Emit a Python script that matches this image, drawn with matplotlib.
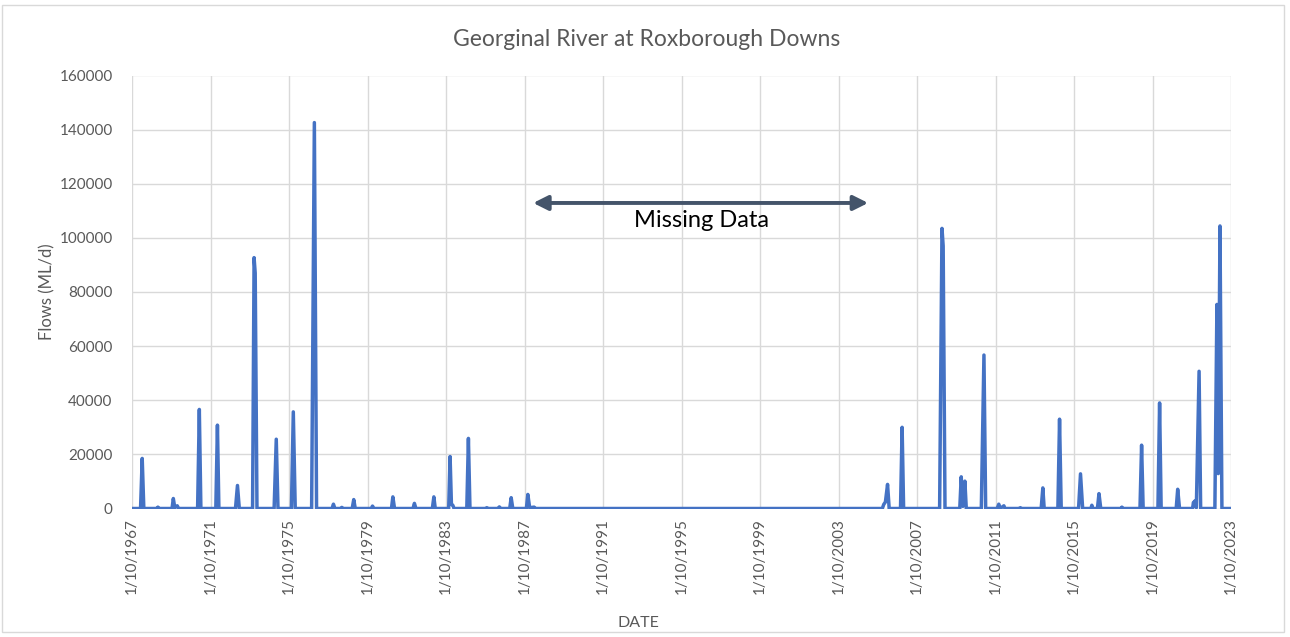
import pandas as pd
import matplotlib.pyplot as plt
from matplotlib.patches import Rectangle

# daily flows (ML/d)
dates = [
    '1967-10-01', '1968-03-08', '1968-04-08', '1968-05-08', '1969-01-05', '1969-01-25', '1969-02-15',
    '1969-10-15', '1969-11-08', '1969-12-05', '1970-01-20', '1970-02-15',
    '1971-02-03', '1971-03-07', '1971-04-05',
    '1972-01-08', '1972-02-07', '1972-03-05',
    '1973-01-08', '1973-02-14', '1973-03-20',
    '1973-11-22', '1973-12-20', '1974-01-10', '1974-02-12',
    '1974-12-28', '1975-02-06', '1975-03-10',
    '1975-11-15', '1975-12-20', '1976-01-25',
    '1976-11-25', '1977-01-15', '1977-02-25',
    '1977-12-10', '1978-01-05', '1978-02-01', '1978-05-20', '1978-06-10', '1978-07-01',
    '1978-12-20', '1979-01-18', '1979-02-15',
    '1979-12-10', '1980-01-02', '1980-01-30',
    '1980-12-20', '1981-01-15', '1981-02-15',
    '1982-01-25', '1982-02-20', '1982-03-20',
    '1983-01-20', '1983-02-17', '1983-03-15',
    '1983-11-20', '1983-12-16', '1984-01-10', '1984-02-05', '1984-02-28',
    '1984-10-22', '1984-11-21', '1984-12-20',
    '1985-10-10', '1985-10-30', '1985-11-20',
    '1986-06-01', '1986-06-20', '1986-07-10',
    '1986-12-30', '1987-01-26', '1987-02-25',
    '1987-11-05', '1987-12-02', '1988-01-05', '1988-03-28', '1988-04-20',
    '2005-12-25', '2006-01-20', '2006-02-20', '2006-04-01', '2006-05-01',
    '2006-11-28', '2006-12-28', '2007-01-25',
    '2008-11-25', '2009-01-08', '2009-01-30', '2009-03-05',
    '2009-12-05', '2010-01-01', '2010-02-01', '2010-03-10', '2010-04-05',
    '2011-01-10', '2011-02-28', '2011-04-01',
    '2011-11-01', '2011-12-01', '2011-12-25', '2012-03-05', '2012-03-25',
    '2012-12-15', '2013-01-05', '2013-01-25',
    '2014-01-28', '2014-02-28', '2014-03-25',
    '2014-12-05', '2015-01-05', '2015-02-05',
    '2015-12-25', '2016-01-30', '2016-03-10',
    '2016-08-10', '2016-08-28', '2016-09-15',
    '2016-12-10', '2017-01-08', '2017-02-10',
    '2018-02-20', '2018-03-10', '2018-03-30',
    '2019-02-10', '2019-03-12', '2019-04-10',
    '2020-01-10', '2020-02-10', '2020-03-10',
    '2020-12-15', '2021-01-12', '2021-02-15',
    '2021-10-15', '2021-11-02', '2021-11-15', '2021-11-28', '2021-12-25', '2022-02-14', '2022-03-15',
    '2022-12-05', '2023-01-12', '2023-02-06', '2023-03-10', '2023-04-15', '2023-10-01',
]
flows = [
    0, 0, 18500, 0, 0, 500, 0,
    0, 3700, 300, 1000, 0,
    0, 36600, 0,
    0, 30800, 0,
    0, 8500, 0,
    0, 92700, 87000, 0,
    0, 25600, 0,
    0, 35700, 0,
    0, 142600, 0,
    0, 1600, 0, 0, 400, 0,
    0, 3300, 0,
    0, 900, 0,
    0, 4300, 0,
    0, 1900, 0,
    0, 4300, 0,
    0, 19200, 1500, 1200, 0,
    0, 25900, 0,
    0, 300, 0,
    0, 600, 0,
    0, 4000, 0,
    0, 5200, 300, 500, 0,
    0, 1500, 2400, 8900, 0,
    0, 30000, 0,
    0, 103500, 97000, 0,
    0, 11700, 800, 10100, 0,
    0, 56700, 0,
    0, 1600, 0, 1000, 0,
    0, 300, 0,
    0, 7600, 0,
    0, 33000, 0,
    0, 12800, 0,
    0, 1200, 0,
    0, 5500, 0,
    0, 500, 0,
    0, 23400, 0,
    0, 39000, 0,
    0, 7100, 0,
    0, 2300, 1200, 2800, 300, 50700, 0,
    0, 75400, 12900, 104400, 0, 0,
]

tick_dates = ['1967-10-01', '1971-10-01', '1975-10-01', '1979-10-01', '1983-10-01',
              '1987-10-01', '1991-10-01', '1995-10-01', '1999-10-01', '2003-10-01',
              '2007-10-01', '2011-10-01', '2015-10-01', '2019-10-01', '2023-10-01']
tick_labels = ['1/10/1967', '1/10/1971', '1/10/1975', '1/10/1979', '1/10/1983',
               '1/10/1987', '1/10/1991', '1/10/1995', '1/10/1999', '1/10/2003',
               '1/10/2007', '1/10/2011', '1/10/2015', '1/10/2019', '1/10/2023']
y_ticks = [0, 20000, 40000, 60000, 80000, 100000, 120000, 140000, 160000]

missing_start = '1988-03-10'
missing_end = '2005-04-05'

plt.rcParams['font.family'] = ['Lato', 'DejaVu Sans']
grey = '#595959'

df = pd.DataFrame({'Date': pd.to_datetime(dates), 'Flow': flows})

fig = plt.figure(figsize=(12.9, 6.37), dpi=100)
ax = fig.add_axes([132 / 1290, 1 - 508.5 / 637, (1231 - 132) / 1290, (508.5 - 75.5) / 637])

ax.plot(df['Date'], df['Flow'], color='#4472C4', lw=2.5, solid_joinstyle='round', zorder=3)

ax.set_xlim(pd.Timestamp(tick_dates[0]), pd.Timestamp(tick_dates[-1]))
ax.set_ylim(0, 160000)
ax.set_xticks(pd.to_datetime(tick_dates))
ax.set_xticklabels(tick_labels, rotation=90, fontsize=11, color=grey)
ax.set_yticks(y_ticks)
ax.set_yticklabels([str(v) for v in y_ticks], fontsize=11, color=grey)
ax.tick_params(axis='x', length=0, pad=7)
ax.tick_params(axis='y', length=0, pad=14)
ax.grid(True, color='#D9D9D9', lw=1)
ax.set_axisbelow(True)
for s in ax.spines.values():
    s.set_visible(False)

# missing data arrow
ax.annotate('', xy=(pd.Timestamp(missing_start), 112900), xytext=(pd.Timestamp(missing_end), 112900),
            arrowprops=dict(arrowstyle='<|-|>', color='#44546A', lw=2.8, mutation_scale=22,
                            shrinkA=0, shrinkB=0))
ax.text(pd.Timestamp('1996-10-15'), 106500, 'Missing Data', ha='center', va='center',
        fontsize=17, color='black')

fig.text(647 / 1290, 1 - 39 / 637, 'Georginal River at Roxborough Downs', ha='center', va='center',
         fontsize=16.5, color=grey)
fig.text(47 / 1290, 1 - 292 / 637, 'Flows (ML/d)', rotation=90, ha='center', va='center',
         fontsize=12, color=grey)
fig.text(638 / 1290, 1 - 623 / 637, 'DATE', ha='center', va='center', fontsize=11.5, color=grey)

fig.patches.append(Rectangle((2 / 1290, 1 - 632 / 637), 1282 / 1290, 627 / 637, transform=fig.transFigure,
                             fill=False, edgecolor='#D9D9D9', lw=1))

fig.savefig('out.png', dpi=100)
